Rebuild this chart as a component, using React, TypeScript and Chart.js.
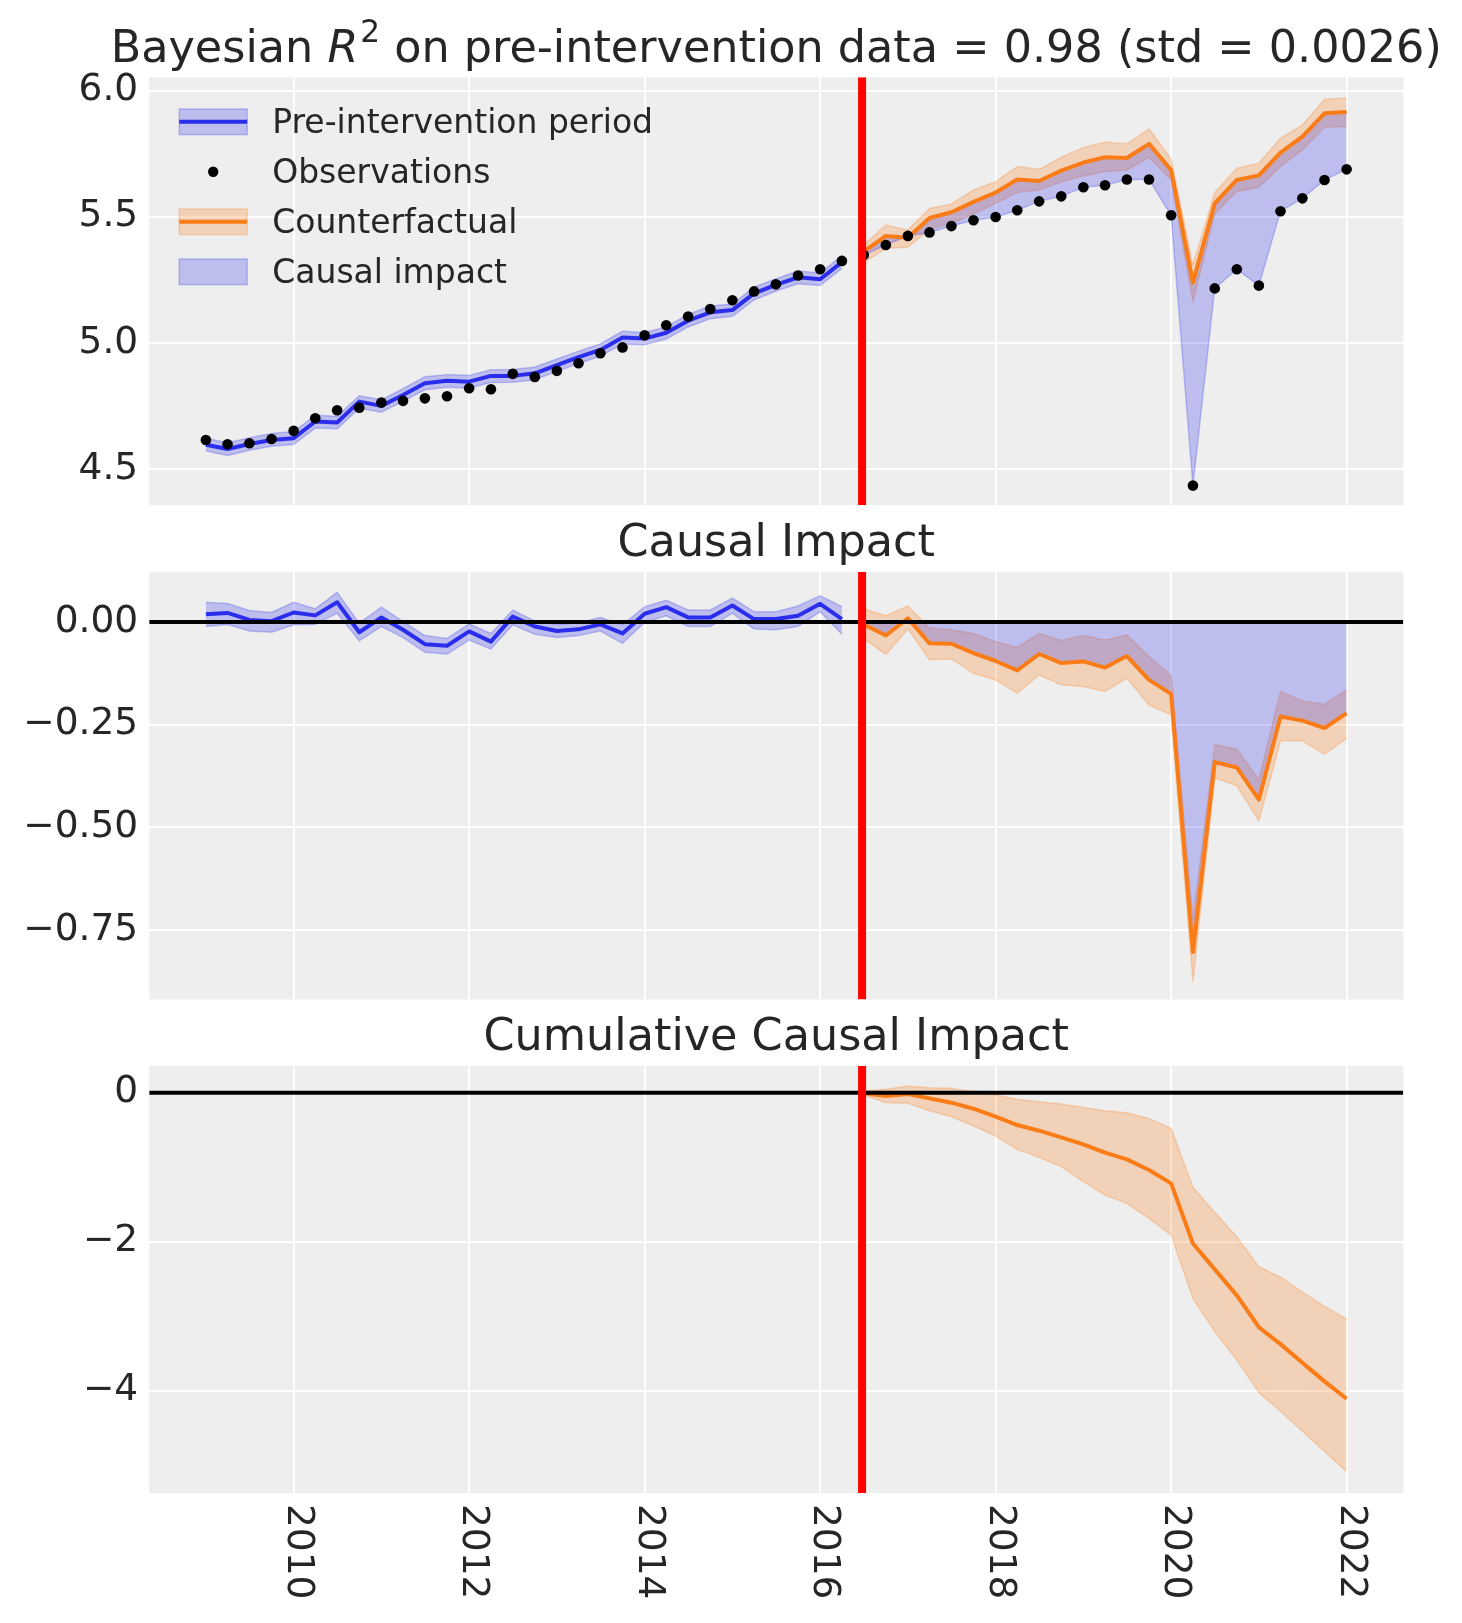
import React, { useEffect, useRef } from "react";
import { Chart, registerables } from "chart.js";

Chart.register(...registerables);

// ---------------- DATA ----------------
const quarterDates = [
  "2009-01-01", "2009-04-01", "2009-07-01", "2009-10-01",
  "2010-01-01", "2010-04-01", "2010-07-01", "2010-10-01",
  "2011-01-01", "2011-04-01", "2011-07-01", "2011-10-01",
  "2012-01-01", "2012-04-01", "2012-07-01", "2012-10-01",
  "2013-01-01", "2013-04-01", "2013-07-01", "2013-10-01",
  "2014-01-01", "2014-04-01", "2014-07-01", "2014-10-01",
  "2015-01-01", "2015-04-01", "2015-07-01", "2015-10-01",
  "2016-01-01", "2016-04-01", "2016-07-01", "2016-10-01",
  "2017-01-01", "2017-04-01", "2017-07-01", "2017-10-01",
  "2018-01-01", "2018-04-01", "2018-07-01", "2018-10-01",
  "2019-01-01", "2019-04-01", "2019-07-01", "2019-10-01",
  "2020-01-01", "2020-04-01", "2020-07-01", "2020-10-01",
  "2021-01-01", "2021-04-01", "2021-07-01", "2021-10-01",
  "2022-01-01",
];

const INTERVENTION_DATE = "2016-06-24";

const observed = [
  4.615, 4.598, 4.602, 4.619, 4.651, 4.701, 4.733, 4.743, 4.763, 4.770,
  4.780, 4.788, 4.820, 4.816, 4.877, 4.865, 4.889, 4.919, 4.959, 4.982,
  5.030, 5.070, 5.104, 5.134, 5.169, 5.204, 5.232, 5.267, 5.292, 5.325,
  5.348, 5.388, 5.424, 5.438, 5.463, 5.486, 5.499, 5.526, 5.561, 5.581,
  5.617, 5.625, 5.648, 5.648, 5.506, 4.434, 5.216, 5.292, 5.227, 5.522,
  5.573, 5.646, 5.688,
];

// pre-intervention model fit (mean and 94% HDI)
const fitMean = [
  4.596, 4.579, 4.599, 4.615, 4.622, 4.688, 4.684, 4.767, 4.750, 4.793,
  4.840, 4.850, 4.846, 4.869, 4.869, 4.879, 4.912, 4.943, 4.972, 5.021,
  5.017, 5.040, 5.088, 5.121, 5.130, 5.196, 5.230, 5.260, 5.252, 5.320,
];
const fitHigh = [
  4.622, 4.604, 4.624, 4.641, 4.648, 4.713, 4.709, 4.790, 4.774, 4.818,
  4.866, 4.874, 4.871, 4.893, 4.894, 4.904, 4.936, 4.967, 4.996, 5.046,
  5.041, 5.063, 5.113, 5.146, 5.154, 5.221, 5.254, 5.285, 5.277, 5.346,
];
const fitLow = [
  4.571, 4.553, 4.574, 4.590, 4.597, 4.662, 4.659, 4.741, 4.725, 4.768,
  4.814, 4.824, 4.821, 4.843, 4.844, 4.853, 4.887, 4.918, 4.947, 4.995,
  4.992, 5.015, 5.063, 5.096, 5.105, 5.170, 5.205, 5.234, 5.227, 5.295,
];

// post-intervention counterfactual (mean and 94% HDI)
const cfMean = [
  5.362, 5.424, 5.417, 5.495, 5.518, 5.559, 5.596, 5.648, 5.642, 5.683,
  5.715, 5.736, 5.733, 5.789, 5.685, 5.239, 5.553, 5.646, 5.664, 5.754,
  5.818, 5.910, 5.915,
];
const cfHigh = [
  5.388, 5.467, 5.447, 5.533, 5.551, 5.606, 5.639, 5.699, 5.688, 5.736,
  5.775, 5.796, 5.789, 5.849, 5.728, 5.309, 5.596, 5.692, 5.712, 5.811,
  5.864, 5.966, 5.971,
];
const cfLow = [
  5.318, 5.375, 5.379, 5.450, 5.474, 5.511, 5.553, 5.596, 5.606, 5.639,
  5.662, 5.679, 5.685, 5.736, 5.646, 5.163, 5.511, 5.600, 5.617, 5.699,
  5.765, 5.855, 5.857,
];

// causal impact, pre-intervention
const preImpactMean = [
  0.019, 0.022, 0.005, 0.002, 0.023, 0.016, 0.048, -0.025, 0.011, -0.019,
  -0.054, -0.058, -0.023, -0.048, 0.013, -0.011, -0.022, -0.018, -0.006, -0.028,
  0.020, 0.036, 0.011, 0.011, 0.040, 0.007, 0.007, 0.015, 0.044, 0.007,
];
const preImpactHigh = [
  0.048, 0.045, 0.028, 0.023, 0.048, 0.032, 0.072, -0.003, 0.036, 0.001,
  -0.033, -0.040, -0.005, -0.028, 0.029, 0.002, -0.006, -0.002, 0.011, -0.007,
  0.037, 0.053, 0.029, 0.029, 0.058, 0.025, 0.025, 0.039, 0.064, 0.037,
];
const preImpactLow = [
  -0.011, -0.006, -0.022, -0.025, -0.007, -0.006, 0.021, -0.046, -0.011, -0.038,
  -0.074, -0.078, -0.044, -0.066, -0.007, -0.030, -0.038, -0.033, -0.022, -0.052,
  -0.001, 0.015, -0.011, -0.011, 0.021, -0.017, -0.019, -0.011, 0.025, -0.030,
];

// causal impact, post-intervention
const postImpactMean = [
  -0.006, -0.033, 0.009, -0.052, -0.053, -0.076, -0.095, -0.118, -0.078, -0.100,
  -0.096, -0.111, -0.083, -0.141, -0.175, -0.803, -0.341, -0.354, -0.432, -0.230,
  -0.240, -0.258, -0.222,
];
const postImpactHigh = [
  0.032, 0.015, 0.039, -0.015, -0.019, -0.028, -0.048, -0.062, -0.028, -0.045,
  -0.033, -0.044, -0.032, -0.084, -0.130, -0.722, -0.299, -0.309, -0.384, -0.169,
  -0.192, -0.200, -0.165,
];
const postImpactLow = [
  -0.040, -0.079, -0.017, -0.092, -0.090, -0.125, -0.141, -0.173, -0.129, -0.153,
  -0.157, -0.169, -0.137, -0.202, -0.226, -0.875, -0.380, -0.398, -0.484, -0.289,
  -0.289, -0.322, -0.283,
];

// cumulative causal impact
const cumMean = [
  -0.006, -0.045, -0.018, -0.076, -0.134, -0.215, -0.322, -0.434, -0.510, -0.600,
  -0.694, -0.805, -0.895, -1.038, -1.217, -2.025, -2.371, -2.720, -3.148, -3.375,
  -3.625, -3.875, -4.108,
];
const cumHigh = [
  0.027, 0.045, 0.089, 0.067, 0.058, 0.013, -0.031, -0.089, -0.121, -0.152,
  -0.197, -0.242, -0.268, -0.345, -0.479, -1.270, -1.605, -1.933, -2.335, -2.475,
  -2.675, -2.865, -3.040,
];
const cumLow = [
  -0.031, -0.134, -0.143, -0.242, -0.322, -0.447, -0.582, -0.761, -0.868, -0.993,
  -1.195, -1.374, -1.485, -1.687, -1.911, -2.761, -3.208, -3.588, -4.025, -4.275,
  -4.545, -4.815, -5.085,
];

// ticks
const xTickYears = [2010, 2012, 2014, 2016, 2018, 2020, 2022];
const xTickLabels = ["2010", "2012", "2014", "2016", "2018", "2020", "2022"];
const topYTicks = [4.5, 5.0, 5.5, 6.0];
const topYTickLabels = ["4.5", "5.0", "5.5", "6.0"];
const midYTicks = [-0.75, -0.5, -0.25, 0];
const midYTickLabels = ["\u22120.75", "\u22120.50", "\u22120.25", "0.00"];
const cumYTicks = [-4, -2, 0];
const cumYTickLabels = ["\u22124", "\u22122", "0"];

const legendLabels = ["Pre-intervention period", "Observations", "Counterfactual", "Causal impact"];
const TITLE_BEFORE = "Bayesian ";
const TITLE_VAR = "R";
const TITLE_SUP = "2";
const TITLE_AFTER = " on pre-intervention data = 0.98 (std = 0.0026)";
const TITLE_MID = "Causal Impact";
const TITLE_CUM = "Cumulative Causal Impact";

// axis ranges
const X_RANGE = [2008.354, 2022.646];
const TOP_Y_RANGE = [4.357, 6.053];
const MID_Y_RANGE = [-0.9185, 0.122];
const CUM_Y_RANGE = [-5.373, 0.361];

// ---------------- STYLE / LAYOUT ----------------
const W = 1462;
const H = 1623;
const PLOT_LEFT = 149.2;
const PLOT_RIGHT = 1403.3;
const TOP_AREA = [77.3, 505.0];
const MID_AREA = [571.8, 999.5];
const CUM_AREA = [1065.8, 1493.0];

const FONT = "'DejaVu Sans', 'Noto Sans', sans-serif";
const TEXT = "#262626";
const PANEL_BG = "#eeeeee";
const GRID = "#ffffff";
const BLUE = "#2a2eec";
const ORANGE = "#fa7c17";
const BLUE_A = "rgba(42,46,236,0.25)";
const ORANGE_A = "rgba(250,124,23,0.25)";
const RED = "#ff0000";

const TICK_FONT = 37.5;
const TITLE_FONT = 44.5;
const LEGEND_FONT = 33;

// ---------------- HELPERS ----------------
const toYear = (s: string) => {
  const [y, m, d] = s.split("-").map(Number);
  const start = Date.UTC(y, 0, 1);
  const end = Date.UTC(y + 1, 0, 1);
  return y + (Date.UTC(y, m - 1, d) - start) / (end - start);
};

const allX = quarterDates.map(toYear);
const INTERVENTION = toYear(INTERVENTION_DATE);
const preX = allX.filter((x) => x < INTERVENTION);
const postX = allX.filter((x) => x >= INTERVENTION);
const observedPost = observed.slice(preX.length);

const series = (xs: number[], ys: number[]) => xs.map((x, i) => ({ x, y: ys[i] }));

function lineDs(data: any[], color: string, width: number, order: number, fill: any = false, bg = "transparent") {
  return {
    type: "line",
    data,
    borderColor: color,
    borderWidth: width,
    backgroundColor: bg,
    fill,
    order,
    pointRadius: 0,
    pointHoverRadius: 0,
    tension: 0,
    borderJoinStyle: "round",
    borderCapStyle: "butt",
  };
}

function bandDs(xs: number[], lo: number[], hi: number[], color: string, order: number) {
  return [
    lineDs(series(xs, lo), color, 1.5, order),
    lineDs(series(xs, hi), color, 1.5, order - 1, "-1", color),
  ];
}

function drawMainTitle(ctx: CanvasRenderingContext2D, cx: number, baseline: number) {
  const parts = [
    { text: TITLE_BEFORE, font: `${TITLE_FONT}px ${FONT}`, dy: 0, gap: 0 },
    { text: TITLE_VAR, font: `italic ${TITLE_FONT}px ${FONT}`, dy: 0, gap: 2 },
    { text: TITLE_SUP, font: `${TITLE_FONT * 0.7}px ${FONT}`, dy: -20, gap: 0 },
    { text: TITLE_AFTER, font: `${TITLE_FONT}px ${FONT}`, dy: 0, gap: 0 },
  ];
  let total = 0;
  const widths = parts.map((p) => {
    ctx.font = p.font;
    const w = ctx.measureText(p.text).width + p.gap;
    total += w;
    return w;
  });
  let x = cx - total / 2;
  ctx.fillStyle = TEXT;
  ctx.textAlign = "left";
  ctx.textBaseline = "alphabetic";
  parts.forEach((p, i) => {
    ctx.font = p.font;
    ctx.fillText(p.text, x, baseline + p.dy);
    x += widths[i];
  });
}

function drawSimpleTitle(text: string) {
  return (ctx: CanvasRenderingContext2D, cx: number, baseline: number) => {
    ctx.font = `${TITLE_FONT}px ${FONT}`;
    ctx.fillStyle = TEXT;
    ctx.textAlign = "center";
    ctx.textBaseline = "alphabetic";
    ctx.fillText(text, cx, baseline);
  };
}

function drawLegend(ctx: CanvasRenderingContext2D, a: any) {
  const hx = a.left + 30;
  const hw = 68;
  const hh = 25.7;
  const tx = a.left + 123;
  const cy0 = a.top + 44.5;
  const step = 50;
  ctx.save();
  legendLabels.forEach((label, i) => {
    const cy = cy0 + i * step;
    if (i === 0 || i === 2 || i === 3) {
      const fillC = i === 2 ? ORANGE_A : BLUE_A;
      ctx.fillStyle = fillC;
      ctx.fillRect(hx, cy - hh / 2, hw, hh);
      ctx.strokeStyle = fillC;
      ctx.lineWidth = 1.5;
      ctx.strokeRect(hx, cy - hh / 2, hw, hh);
    }
    if (i === 0 || i === 2) {
      ctx.strokeStyle = i === 0 ? BLUE : ORANGE;
      ctx.lineWidth = 4;
      ctx.beginPath();
      ctx.moveTo(hx, cy);
      ctx.lineTo(hx + hw, cy);
      ctx.stroke();
    }
    if (i === 1) {
      ctx.fillStyle = "#000000";
      ctx.beginPath();
      ctx.arc(hx + hw / 2, cy, 5.2, 0, Math.PI * 2);
      ctx.fill();
    }
    ctx.fillStyle = TEXT;
    ctx.font = `${LEGEND_FONT}px ${FONT}`;
    ctx.textAlign = "left";
    ctx.textBaseline = "alphabetic";
    ctx.fillText(label, tx, cy + 11);
  });
  ctx.restore();
}

function makeConfig(opts: {
  area: number[];
  yRange: number[];
  yTicks: number[];
  yLabels: string[];
  datasets: any[];
  title: (ctx: CanvasRenderingContext2D, cx: number, baseline: number) => void;
  zeroLine: boolean;
  legend: boolean;
  xLabels: boolean;
}) {
  const decor = {
    id: "decor",
    beforeDraw(chart: any) {
      const { ctx, chartArea: a } = chart;
      ctx.save();
      ctx.fillStyle = PANEL_BG;
      ctx.fillRect(a.left, a.top, a.right - a.left, a.bottom - a.top);
      ctx.restore();
    },
    afterDatasetsDraw(chart: any) {
      const { ctx, chartArea: a, scales } = chart;
      ctx.save();
      ctx.beginPath();
      ctx.rect(a.left, a.top, a.right - a.left, a.bottom - a.top);
      ctx.clip();
      if (opts.zeroLine) {
        const y0 = scales.y.getPixelForValue(0);
        ctx.strokeStyle = "#000000";
        ctx.lineWidth = 4;
        ctx.beginPath();
        ctx.moveTo(a.left, y0);
        ctx.lineTo(a.right, y0);
        ctx.stroke();
      }
      const xi = scales.x.getPixelForValue(INTERVENTION);
      ctx.strokeStyle = RED;
      ctx.lineWidth = 8;
      ctx.beginPath();
      ctx.moveTo(xi, a.top);
      ctx.lineTo(xi, a.bottom);
      ctx.stroke();
      ctx.restore();
    },
    afterDraw(chart: any) {
      const { ctx, chartArea: a, scales } = chart;
      ctx.save();
      opts.title(ctx, (a.left + a.right) / 2, a.top - 15.5);
      ctx.restore();
      if (opts.legend) drawLegend(ctx, a);
      if (opts.xLabels) {
        ctx.save();
        ctx.fillStyle = TEXT;
        ctx.font = `${TICK_FONT}px ${FONT}`;
        xTickYears.forEach((v, i) => {
          const x = scales.x.getPixelForValue(v);
          ctx.save();
          ctx.translate(x, a.bottom + 11);
          ctx.rotate(Math.PI / 2);
          ctx.textAlign = "left";
          ctx.textBaseline = "middle";
          ctx.fillText(xTickLabels[i], 0, -4);
          ctx.restore();
        });
        ctx.restore();
      }
    },
  };

  return {
    type: "line",
    data: { datasets: opts.datasets },
    options: {
      animation: false,
      responsive: false,
      events: [],
      layout: {
        padding: { top: opts.area[0], bottom: H - opts.area[1], left: 0, right: W - PLOT_RIGHT },
      },
      plugins: { legend: { display: false }, tooltip: { enabled: false }, title: { display: false } },
      scales: {
        x: {
          type: "linear",
          min: X_RANGE[0],
          max: X_RANGE[1],
          afterBuildTicks: (axis: any) => {
            axis.ticks = xTickYears.map((v) => ({ value: v }));
          },
          afterFit: (s: any) => {
            s.height = 0;
          },
          ticks: { display: false },
          grid: { color: GRID, lineWidth: 2, drawTicks: false },
          border: { display: false },
        },
        y: {
          type: "linear",
          min: opts.yRange[0],
          max: opts.yRange[1],
          afterBuildTicks: (axis: any) => {
            axis.ticks = opts.yTicks.map((v) => ({ value: v }));
          },
          afterFit: (s: any) => {
            s.width = PLOT_LEFT;
          },
          ticks: {
            autoSkip: false,
            padding: 11,
            color: TEXT,
            font: { family: FONT, size: TICK_FONT },
            callback: (value: number) => {
              const idx = opts.yTicks.findIndex((t) => Math.abs(t - value) < 1e-9);
              return idx >= 0 ? opts.yLabels[idx] : "";
            },
          },
          grid: { color: GRID, lineWidth: 2, drawTicks: false },
          border: { display: false },
        },
      },
    },
    plugins: [decor],
  };
}

function topConfig() {
  const datasets = [
    ...bandDs(preX, fitLow, fitHigh, BLUE_A, 100),
    ...bandDs(postX, cfLow, cfHigh, ORANGE_A, 98),
    lineDs(series(postX, observedPost), BLUE_A, 1.5, 96),
    lineDs(series(postX, cfMean), BLUE_A, 1.5, 95, "-1", BLUE_A),
    lineDs(series(preX, fitMean), BLUE, 4, 50),
    lineDs(series(postX, cfMean), ORANGE, 4, 49),
    {
      type: "line",
      data: series(allX, observed),
      showLine: false,
      pointRadius: 5.3,
      pointHoverRadius: 5.3,
      pointBackgroundColor: "#000000",
      pointBorderColor: "#000000",
      pointBorderWidth: 0,
      order: 40,
    },
  ];
  return makeConfig({
    area: TOP_AREA,
    yRange: TOP_Y_RANGE,
    yTicks: topYTicks,
    yLabels: topYTickLabels,
    datasets,
    title: drawMainTitle,
    zeroLine: false,
    legend: true,
    xLabels: false,
  });
}

function midConfig() {
  const datasets = [
    ...bandDs(preX, preImpactLow, preImpactHigh, BLUE_A, 100),
    ...bandDs(postX, postImpactLow, postImpactHigh, ORANGE_A, 98),
    lineDs(series(postX, postImpactMean), BLUE_A, 1.5, 96, { value: 0 }, BLUE_A),
    lineDs(series(preX, preImpactMean), BLUE, 4, 50),
    lineDs(series(postX, postImpactMean), ORANGE, 4, 49),
  ];
  return makeConfig({
    area: MID_AREA,
    yRange: MID_Y_RANGE,
    yTicks: midYTicks,
    yLabels: midYTickLabels,
    datasets,
    title: drawSimpleTitle(TITLE_MID),
    zeroLine: true,
    legend: false,
    xLabels: false,
  });
}

function cumConfig() {
  const datasets = [
    ...bandDs(postX, cumLow, cumHigh, ORANGE_A, 100),
    lineDs(series(postX, cumMean), ORANGE, 4, 50),
  ];
  return makeConfig({
    area: CUM_AREA,
    yRange: CUM_Y_RANGE,
    yTicks: cumYTicks,
    yLabels: cumYTickLabels,
    datasets,
    title: drawSimpleTitle(TITLE_CUM),
    zeroLine: true,
    legend: false,
    xLabels: true,
  });
}

export default function App() {
  const r1 = useRef<HTMLCanvasElement>(null);
  const r2 = useRef<HTMLCanvasElement>(null);
  const r3 = useRef<HTMLCanvasElement>(null);

  useEffect(() => {
    const charts = [
      new Chart(r1.current as HTMLCanvasElement, topConfig() as any),
      new Chart(r2.current as HTMLCanvasElement, midConfig() as any),
      new Chart(r3.current as HTMLCanvasElement, cumConfig() as any),
    ];
    return () => charts.forEach((c) => c.destroy());
  }, []);

  const cs: React.CSSProperties = { position: "absolute", left: 0, top: 0, width: W, height: H };
  return (
    <div style={{ position: "absolute", left: 0, top: 0, width: W, height: H, background: "#ffffff" }}>
      <canvas ref={r1} width={W} height={H} style={cs} />
      <canvas ref={r2} width={W} height={H} style={cs} />
      <canvas ref={r3} width={W} height={H} style={cs} />
    </div>
  );
}
